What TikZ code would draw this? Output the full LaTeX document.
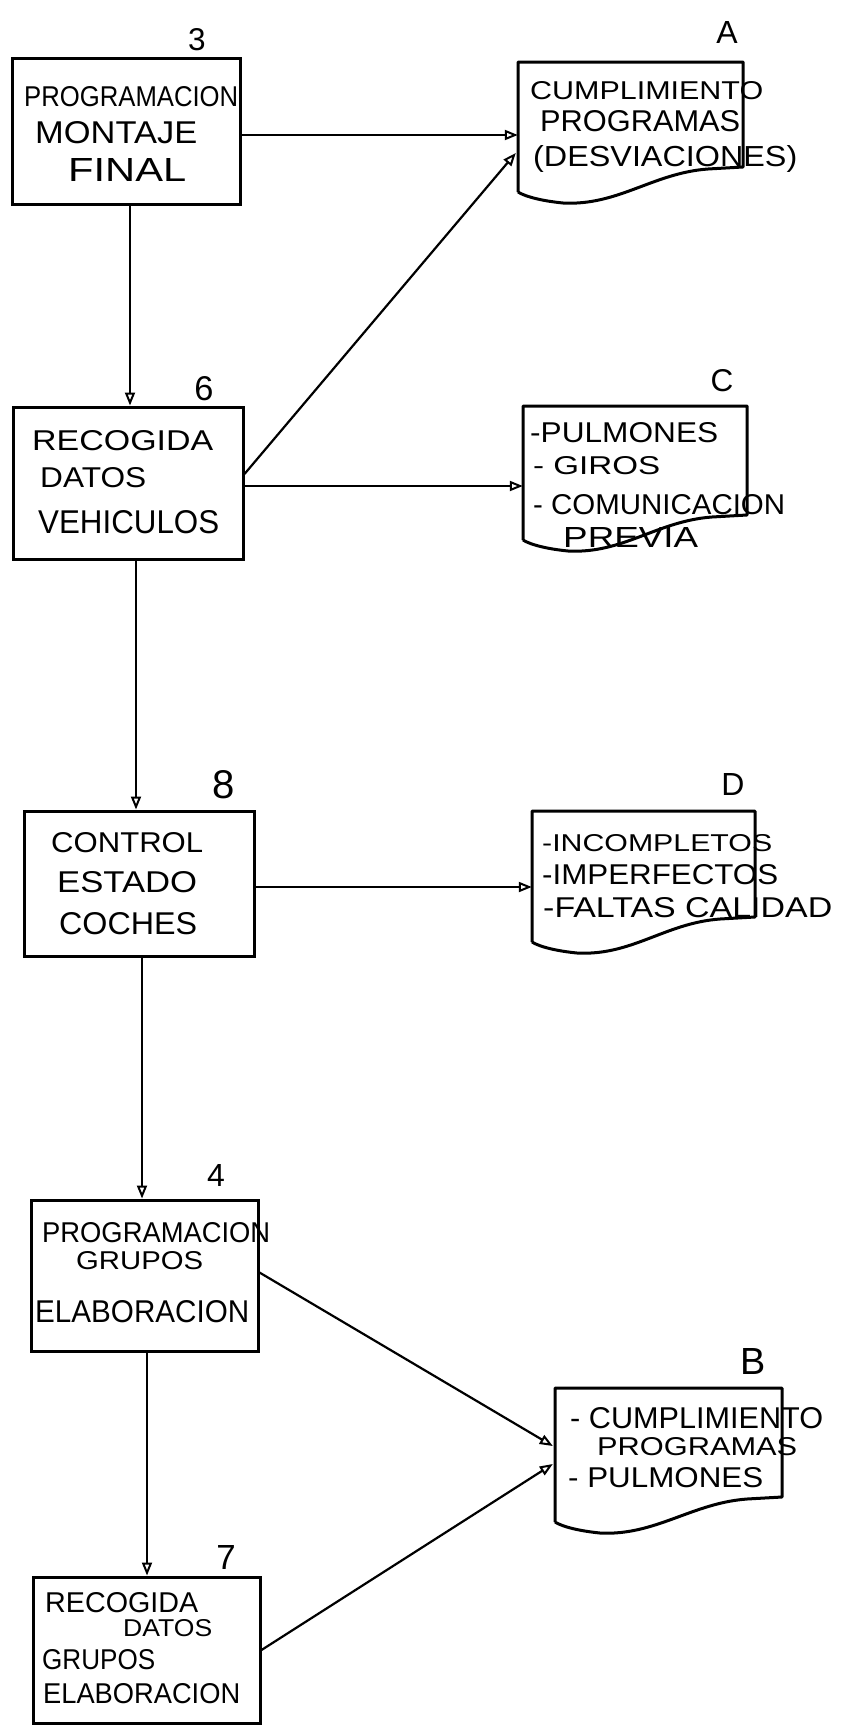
\documentclass[tikz,border=0pt]{standalone}
\usepackage{fontspec}
\setmainfont{Liberation Sans}
\usetikzlibrary{arrows.meta,calc}
\newcommand\tl[6]{\node[txt] (#1) at (#2,#3) {\resizebox{#4pt}{#5pt}{#6}};}
\newcommand\lbl[5]{\node[txt,anchor=center] (#1) at (#2,#3) {\resizebox{!}{#4pt}{#5}};}
\begin{document}
\begin{tikzpicture}[x=1pt,y=-1pt,
  pbox/.style={draw,line width=3pt,inner sep=0pt},
  docnode/.style={inner sep=0pt},
  docline/.style={line width=3pt,line join=round},
  txt/.style={inner sep=0pt,anchor=west},
  arr/.style={line width=2.2pt,-{Triangle[open,length=13pt,width=10pt,line width=2pt]}}]
\useasboundingbox[fill=white] (0,0) rectangle (842,1727);

% process boxes
\node[pbox,minimum width=228pt,minimum height=146pt] (b3) at (126,131) {};
\node[pbox,minimum width=230pt,minimum height=152pt] (b6) at (128,483) {};
\node[pbox,minimum width=230pt,minimum height=145pt] (b8) at (139,883.5) {};
\node[pbox,minimum width=227pt,minimum height=151pt] (b4) at (144.5,1275.5) {};
\node[pbox,minimum width=227pt,minimum height=146pt] (b7) at (146.5,1650) {};

% document nodes (invisible frames) and their shapes
\node[docnode,minimum width=225pt,minimum height=130pt] (dA) at (630.5,127) {};
\node[docnode,minimum width=224pt,minimum height=134pt] (dC) at (635,473) {};
\node[docnode,minimum width=223pt,minimum height=131pt] (dD) at (643.5,876.5) {};
\node[docnode,minimum width=227pt,minimum height=134pt] (dB) at (668.5,1455) {};

\draw[docline] (518,192) -- (518,62) -- (743,62) -- (743,167) -- (708,169)
  .. controls (653,173) and (618,206) .. (563,203)
  .. controls (543,201) and (526,197) .. (518,192);
\draw[docline] (523,540) -- (523,406) -- (747,406) -- (747,515) -- (712,517)
  .. controls (657,521) and (623,554) .. (568,551)
  .. controls (548,549) and (531,545) .. (523,540);
\draw[docline] (532,942) -- (532,811) -- (755,811) -- (755,917) -- (720,919)
  .. controls (665,923) and (632,956) .. (577,953)
  .. controls (557,951) and (540,947) .. (532,942);
\draw[docline] (555,1522) -- (555,1388) -- (782,1388) -- (782,1497) -- (747,1499)
  .. controls (692,1503) and (655,1536) .. (600,1533)
  .. controls (580,1531) and (563,1527) .. (555,1522);

% labels
\lbl{l3}{197}{40}{22}{3}
\lbl{lA}{727}{32}{22}{A}
\lbl{l6}{204}{389}{24}{6}
\lbl{lC}{722}{381}{22}{C}
\lbl{l8}{224}{785}{28}{8}
\lbl{lD}{733}{784}{22}{D}
\lbl{l4}{216}{1175}{22}{4}
\lbl{lB}{753}{1361}{26}{B}
\lbl{l7}{226}{1557}{24}{7}

% box texts
\tl{t31}{24}{97}{214}{20}{PROGRAMACION}
\tl{t32}{35}{133}{162}{22}{MONTAJE}
\tl{t33}{68}{170}{118}{23}{FINAL}
\tl{t61}{32}{441}{181}{20}{RECOGIDA}
\tl{t62}{40}{478}{106}{20}{DATOS}
\tl{t63}{38}{522}{181}{23}{VEHICULOS}
\tl{t81}{51}{843}{152}{20}{CONTROL}
\tl{t82}{57}{882}{140}{21}{ESTADO}
\tl{t83}{59}{924}{138}{22}{COCHES}
\tl{t41}{42}{1233}{228}{20}{PROGRAMACION}
\tl{t42}{76}{1261}{127}{18}{GRUPOS}
\tl{t43}{35}{1312}{214}{22}{ELABORACION}
\tl{t71}{45}{1603}{153}{20}{RECOGIDA}
\tl{t72}{123}{1628}{89}{17}{DATOS}
\tl{t73}{42}{1660}{113}{20}{GRUPOS}
\tl{t74}{43}{1694}{197}{20}{ELABORACION}

% document texts
\tl{a1}{530}{91}{233}{18}{CUMPLIMIENTO}
\tl{a2}{540}{121}{200}{21}{PROGRAMAS}
\tl{a3}{533}{159}{264}{21}{(DESVIACIONES)}
\tl{c1}{530}{433}{188}{20}{-PULMONES}
\tl{c2}{533}{466}{127}{18}{- GIROS}
\tl{c3}{533}{505}{252}{20}{- COMUNICACION}
\tl{c4}{563}{537}{135}{20}{PREVIA}
\tl{d1}{542}{843}{230}{17}{-INCOMPLETOS}
\tl{d2}{542}{875}{236}{20}{-IMPERFECTOS}
\tl{d3}{543}{908}{289}{20}{-FALTAS CALIDAD}
\tl{e1}{570}{1418}{253}{21}{- CUMPLIMIENTO}
\tl{e2}{597}{1447}{200}{18}{PROGRAMAS}
\tl{e3}{568}{1478}{195}{20}{- PULMONES}

% connection points on documents
\coordinate (pA1) at ([yshift=-8pt]dA.west);
\coordinate (pA2) at ([yshift=-26pt,xshift=-2pt]dA.west);
\coordinate (pC) at ([yshift=-13pt]dC.west);
\coordinate (pD) at ([yshift=-10.5pt]dD.west);
\coordinate (pB1) at ([yshift=9pt,xshift=-2pt]dB.west);
\coordinate (pB2) at ([yshift=-9pt,xshift=-2pt]dB.west);

% connectors
\draw[arr] ([xshift=4pt]b3.south) -- ([xshift=4pt]b3.south |- b6.north);
\draw[arr] ([xshift=8pt]b6.south) -- ([xshift=8pt]b6.south |- b8.north);
\draw[arr] ([xshift=3pt]b8.south) -- ([xshift=3pt]b8.south |- b4.north);
\draw[arr] ([xshift=2.5pt]b4.south) -- ([xshift=2.5pt]b4.south |- b7.north);
\draw[arr] (b3.east |- pA1) -- (pA1);
\draw[arr] ([yshift=9pt]b6.east) -- (pA2);
\draw[arr] (b6.east |- pC) -- (pC);
\draw[arr] (b8.east |- pD) -- (pD);
\draw[arr] ([yshift=3pt]b4.east) -- (pB1);
\draw[arr] (b7.east) -- (pB2);
\end{tikzpicture}
\end{document}
